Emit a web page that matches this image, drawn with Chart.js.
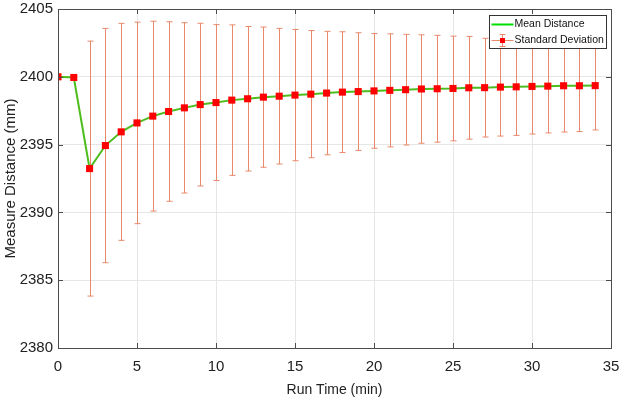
<!DOCTYPE html>
<html>
<head>
<meta charset="utf-8">
<script src="https://cdn.jsdelivr.net/npm/chart.js@4.4.1/dist/chart.umd.min.js"></script>
<style>
  html, body { margin: 0; padding: 0; background: #fff; }
  #wrap { width: 625px; height: 403px; }
</style>
</head>
<body>
<div id="wrap"><canvas id="graphCanvas"></canvas></div>
<script>
var runTime = [0, 1, 2, 3, 4, 5, 6, 7, 8, 9, 10, 11, 12, 13, 14, 15, 16, 17, 18, 19, 20, 21, 22, 23, 24, 25, 26, 27, 28, 29, 30, 31, 32, 33, 34];
var meanDistance = [2400.00, 2399.95, 2393.23, 2394.93, 2395.94, 2396.60, 2397.10, 2397.44, 2397.71, 2397.95,
  2398.10, 2398.28, 2398.38, 2398.50, 2398.57, 2398.65, 2398.72, 2398.80, 2398.87, 2398.91,
  2398.96, 2399.00, 2399.05, 2399.10, 2399.12, 2399.14, 2399.19, 2399.20, 2399.24, 2399.26,
  2399.29, 2399.31, 2399.34, 2399.34, 2399.35];
var stdDeviation = [0, 0, 9.40, 8.64, 8.00, 7.43, 7.00, 6.62, 6.28, 6.00,
  5.75, 5.55, 5.33, 5.17, 5.00, 4.84, 4.69, 4.55, 4.45, 4.34,
  4.23, 4.17, 4.08, 4.00, 3.94, 3.86, 3.79, 3.64, 3.61, 3.58,
  3.51, 3.45, 3.41, 3.38, 3.27];
var xTicks = [0, 5, 10, 15, 20, 25, 30, 35];
var yTicks = [2380, 2385, 2390, 2395, 2400, 2405];
var legendLabels = ['Mean Distance', 'Standard Deviation'];

var fontFamily = "'Liberation Sans', Arial, Helvetica, sans-serif";
var lineColor = '#4dbd1e';
var errColor = '#e8896b';
var markColor = '#ff0000';
var axisColor = '#4d4d4d';

var points = [];
for (var i in runTime) {
  points.push({ x: runTime[i], y: meanDistance[i] });
}

// error bars, drawn under the markers
var errorBars = {
  id: 'errorBars',
  beforeDatasetsDraw: function (chart) {
    var ctx = chart.ctx;
    var xs = chart.scales.x, ys = chart.scales.y;
    ctx.save();
    ctx.strokeStyle = errColor;
    ctx.lineWidth = 1;
    for (var i = 0; i < runTime.length; i++) {
      if (!stdDeviation[i]) continue;
      var px = Math.round(xs.getPixelForValue(runTime[i])) + 0.5;
      var top = ys.getPixelForValue(meanDistance[i] + stdDeviation[i]);
      var bot = ys.getPixelForValue(meanDistance[i] - stdDeviation[i]);
      ctx.beginPath();
      ctx.moveTo(px, top); ctx.lineTo(px, bot);
      ctx.moveTo(px - 3, top); ctx.lineTo(px + 3, top);
      ctx.moveTo(px - 3, bot); ctx.lineTo(px + 3, bot);
      ctx.stroke();
    }
    ctx.restore();
  }
};

// box, inward ticks and legend
var boxAndLegend = {
  id: 'boxAndLegend',
  afterDraw: function (chart) {
    var ctx = chart.ctx;
    var a = chart.chartArea;
    var xs = chart.scales.x, ys = chart.scales.y;
    ctx.save();
    ctx.strokeStyle = axisColor;
    ctx.lineWidth = 1;
    ctx.strokeRect(Math.round(a.left) + 0.5, Math.round(a.top) + 0.5, Math.round(a.right - a.left), Math.round(a.bottom - a.top));
    ctx.beginPath();
    xTicks.forEach(function (v) {
      var px = Math.round(xs.getPixelForValue(v)) + 0.5;
      ctx.moveTo(px, a.bottom); ctx.lineTo(px, a.bottom - 5);
      ctx.moveTo(px, a.top); ctx.lineTo(px, a.top + 5);
    });
    yTicks.forEach(function (v) {
      var py = Math.round(ys.getPixelForValue(v)) + 0.5;
      ctx.moveTo(a.left, py); ctx.lineTo(a.left + 5, py);
      ctx.moveTo(a.right, py); ctx.lineTo(a.right - 5, py);
    });
    ctx.stroke();

    // legend
    ctx.font = "10.5px " + fontFamily;
    var tw = Math.max(ctx.measureText(legendLabels[0]).width, ctx.measureText(legendLabels[1]).width);
    var w = Math.round(25 + tw + 3);
    var h = 33;
    var bx = Math.round(a.right - 5 - w) + 0.5;
    var by = Math.round(a.top + 6) + 0.5;
    ctx.fillStyle = '#fff';
    ctx.fillRect(bx, by, w, h);
    ctx.strokeStyle = '#333';
    ctx.strokeRect(bx, by, w, h);
    var y1 = by + 9, y2 = by + 25;
    ctx.strokeStyle = '#00dd00';
    ctx.lineWidth = 2;
    ctx.beginPath(); ctx.moveTo(bx + 2, y1); ctx.lineTo(bx + 24, y1); ctx.stroke();
    ctx.strokeStyle = errColor;
    ctx.lineWidth = 1;
    ctx.beginPath();
    ctx.moveTo(bx + 2, y2); ctx.lineTo(bx + 24, y2);
    ctx.moveTo(bx + 13, y2 - 6); ctx.lineTo(bx + 13, y2 + 6);
    ctx.moveTo(bx + 10, y2 - 6); ctx.lineTo(bx + 16, y2 - 6);
    ctx.moveTo(bx + 10, y2 + 6); ctx.lineTo(bx + 16, y2 + 6);
    ctx.stroke();
    ctx.fillStyle = markColor;
    ctx.fillRect(bx + 10.5, y2 - 2.5, 5, 5);
    ctx.fillStyle = '#111';
    ctx.textBaseline = 'middle';
    ctx.textAlign = 'left';
    ctx.fillText(legendLabels[0], bx + 25, y1);
    ctx.fillText(legendLabels[1], bx + 25, y2);
    ctx.restore();
  }
};

var chartdata = {
  datasets: [
    {
      label: legendLabels[0],
      data: points,
      borderColor: lineColor,
      borderWidth: 2,
      backgroundColor: markColor,
      pointStyle: 'rect',
      pointRadius: 5,
      pointBorderColor: markColor,
      pointBackgroundColor: markColor,
      pointBorderWidth: 0,
      tension: 0
    }
  ]
};

function plainTick(value) {
  return String(value);
}

var graphTarget = document.getElementById('graphCanvas');
var lineGraph = new Chart(graphTarget, {
  type: 'line',
  data: chartdata,
  plugins: [errorBars, boxAndLegend],
  options: {
    responsive: true,
    maintainAspectRatio: false,
    animation: false,
    layout: { padding: { left: 0, right: 14, top: 9, bottom: 0 } },
    plugins: {
      legend: { display: false },
      tooltip: { enabled: false }
    },
    scales: {
      x: {
        type: 'linear',
        min: 0,
        max: 35,
        afterBuildTicks: function (scale) {
          scale.ticks = xTicks.map(function (v) { return { value: v }; });
        },
        afterFit: function (scale) {
          scale.height = 55;
          scale.paddingLeft = 0;
          scale.paddingRight = 0;
        },
        grid: { color: '#e6e6e6', drawTicks: false },
        border: { color: axisColor },
        ticks: { color: '#222', padding: 11, callback: plainTick, font: { family: fontFamily, size: 15, lineHeight: 1 } },
        title: {
          display: true,
          text: 'Run Time (min)',
          color: '#222',
          font: { family: fontFamily, size: 14, lineHeight: 1.2 },
          padding: { top: 0, bottom: 4 }
        }
      },
      y: {
        type: 'linear',
        min: 2380,
        max: 2405,
        afterBuildTicks: function (scale) {
          scale.ticks = yTicks.map(function (v) { return { value: v }; });
        },
        afterFit: function (scale) {
          scale.width = 58;
          scale.paddingTop = 0;
          scale.paddingBottom = 0;
        },
        grid: { color: '#e6e6e6', drawTicks: false },
        border: { color: axisColor },
        ticks: { color: '#222', padding: 5, callback: plainTick, font: { family: fontFamily, size: 15, lineHeight: 1 } },
        title: {
          display: true,
          text: 'Measure Distance (mm)',
          color: '#222',
          font: { family: fontFamily, size: 15, lineHeight: 1.2 },
          padding: { top: 2, bottom: 0 }
        }
      }
    }
  }
});
</script>
</body>
</html>
